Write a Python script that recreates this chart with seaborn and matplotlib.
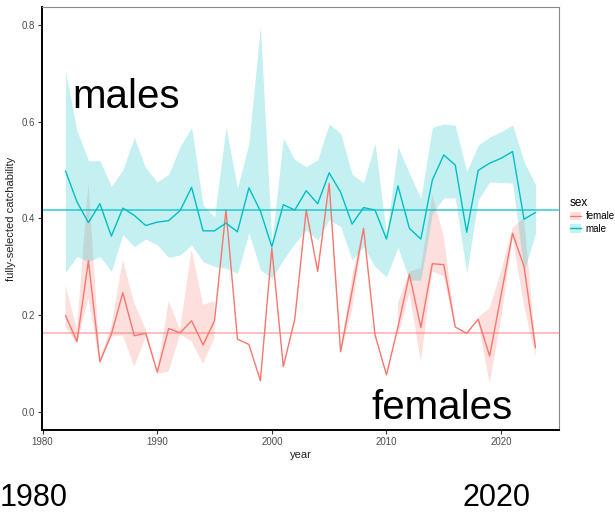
import numpy as np
import pandas as pd
import matplotlib
matplotlib.use("Agg")
import matplotlib.pyplot as plt
import seaborn as sns
from matplotlib.lines import Line2D
from matplotlib.patches import Patch

years = list(range(1982, 2024))

male = [0.498, 0.434, 0.391, 0.430, 0.363, 0.421, 0.406, 0.385, 0.392, 0.395,
        0.416, 0.464, 0.374, 0.374, 0.390, 0.372, 0.463, 0.415, 0.341, 0.428,
        0.417, 0.457, 0.430, 0.494, 0.454, 0.388, 0.422, 0.417, 0.357, 0.467,
        0.379, 0.357, 0.479, 0.531, 0.510, 0.371, 0.499, 0.514, 0.524, 0.538,
        0.398, 0.412]
male_hi = [0.703, 0.581, 0.519, 0.519, 0.466, 0.500, 0.567, 0.504, 0.475, 0.491,
           0.548, 0.588, 0.428, 0.403, 0.588, 0.462, 0.555, 0.797, 0.350, 0.566,
           0.521, 0.507, 0.521, 0.595, 0.576, 0.491, 0.473, 0.555, 0.365, 0.548,
           0.493, 0.440, 0.588, 0.595, 0.592, 0.497, 0.551, 0.568, 0.579, 0.593,
           0.517, 0.469]
male_lo = [0.288, 0.321, 0.310, 0.321, 0.290, 0.366, 0.341, 0.357, 0.345, 0.319,
           0.324, 0.345, 0.310, 0.300, 0.297, 0.286, 0.370, 0.293, 0.276, 0.314,
           0.348, 0.375, 0.355, 0.397, 0.383, 0.314, 0.341, 0.300, 0.279, 0.340,
           0.272, 0.272, 0.410, 0.442, 0.442, 0.286, 0.438, 0.475, 0.474, 0.473,
           0.290, 0.369]

female = [0.199, 0.145, 0.312, 0.103, 0.160, 0.246, 0.157, 0.162, 0.082, 0.172,
          0.163, 0.188, 0.138, 0.188, 0.417, 0.150, 0.139, 0.064, 0.338, 0.093,
          0.191, 0.417, 0.290, 0.472, 0.124, 0.250, 0.379, 0.159, 0.076, 0.175,
          0.284, 0.174, 0.306, 0.304, 0.175, 0.162, 0.191, 0.115, 0.241, 0.369,
          0.300, 0.132]
nan = float("nan")
female_lo = [0.176, 0.140, 0.235, 0.100, 0.155, 0.158, 0.093, 0.155, 0.078, 0.083,
             0.160, 0.145, 0.099, 0.152, nan, nan, nan, nan, nan, nan,
             nan, nan, nan, nan, 0.120, 0.210, 0.375, nan, nan, 0.155,
             0.245, 0.103, 0.290, 0.280, 0.170, nan, 0.185, 0.059, 0.190, 0.360,
             0.220, 0.114]
female_hi = [0.262, 0.170, 0.473, 0.110, 0.175, 0.314, 0.224, 0.170, 0.085, 0.228,
             0.170, 0.335, 0.221, 0.228, nan, nan, nan, nan, nan, nan,
             nan, nan, nan, nan, 0.130, 0.279, 0.385, nan, nan, 0.225,
             0.290, 0.297, 0.448, 0.362, 0.180, nan, 0.195, 0.214, 0.290, 0.380,
             0.400, 0.140]

mean_male = 0.417
mean_female = 0.163

sexes = ["female", "male"]
colors = {"female": "#F8766D", "male": "#00BFC4"}

df = pd.DataFrame({
    "year": years * 2,
    "q": female + male,
    "lo": female_lo + male_lo,
    "hi": female_hi + male_hi,
    "sex": ["female"] * len(years) + ["male"] * len(years),
})

sns.set_theme(style="white")
plt.rcParams["font.family"] = ["Liberation Sans", "DejaVu Sans"]
plt.rcParams["text.color"] = "black"

fig = plt.figure(figsize=(6.15, 5.14), dpi=100)
ax = fig.add_axes([42 / 615, (514 - 430) / 514, (559 - 42) / 615, (430 - 7) / 514])

for s in sexes:
    d = df[df["sex"] == s]
    ax.fill_between(d["year"], d["lo"], d["hi"], color=colors[s], alpha=0.23,
                    linewidth=0)

sns.lineplot(data=df, x="year", y="q", hue="sex", palette=colors, ax=ax,
             linewidth=1.0, legend=False, estimator=None)

ax.axhline(mean_male, color=colors["male"], linewidth=1.1, alpha=0.8)
ax.axhline(mean_female, color=colors["female"], linewidth=1.2, alpha=0.55)

ax.set_xlim(1979.95, 2025.05)
ax.set_ylim(-0.038, 0.837)
ax.set_xticks([1980, 1990, 2000, 2010, 2020])
ax.set_yticks([0.0, 0.2, 0.4, 0.6, 0.8])
ax.set_yticklabels(["0.0", "0.2", "0.4", "0.6", "0.8"])
ax.tick_params(axis="both", labelsize=7, colors="#333333", length=3, width=0.8,
               direction="out", bottom=True, left=True, pad=2)
for lab in ax.get_xticklabels() + ax.get_yticklabels():
    lab.set_color("#4D4D4D")
ax.set_xlabel("year", fontsize=8, color="#222222", labelpad=2)
ax.set_ylabel("fully-selected catchability", fontsize=8, color="#222222", labelpad=4)

for side in ["top", "right"]:
    ax.spines[side].set_color("#888888")
    ax.spines[side].set_linewidth(0.8)
for side in ["left", "bottom"]:
    ax.spines[side].set_color("black")
    ax.spines[side].set_linewidth(1.4)

big = ["Liberation Sans Narrow", "Liberation Sans", "DejaVu Sans"]
ax.text(1982.6, 0.628, "males", fontsize=29, family=big, color="black",
        ha="left", va="baseline")
ax.text(2008.7, -0.016, "females", fontsize=29, family=big, color="black",
        ha="left", va="baseline")
fig.text(0.0, 8 / 514, "1980", fontsize=22, family=big, color="black",
         ha="left", va="baseline")
fig.text(463 / 615, 8 / 514, "2020", fontsize=22, family=big, color="black",
         ha="left", va="baseline")

handles = []
for s in sexes:
    handles.append((Patch(facecolor=colors[s], alpha=0.23, edgecolor="none"),
                    Line2D([], [], color=colors[s], linewidth=1.0)))
leg = fig.legend(handles=handles, labels=sexes, title="sex",
                 loc="upper left", bbox_to_anchor=(570 / 615, 1 - 197 / 514),
                 frameon=False, fontsize=7, title_fontsize=8.5,
                 handlelength=1.1, handleheight=1.0, handletextpad=0.5,
                 labelspacing=0.25, borderaxespad=0, borderpad=0)
leg._legend_box.align = "left"

fig.savefig("out.png", dpi=100)
